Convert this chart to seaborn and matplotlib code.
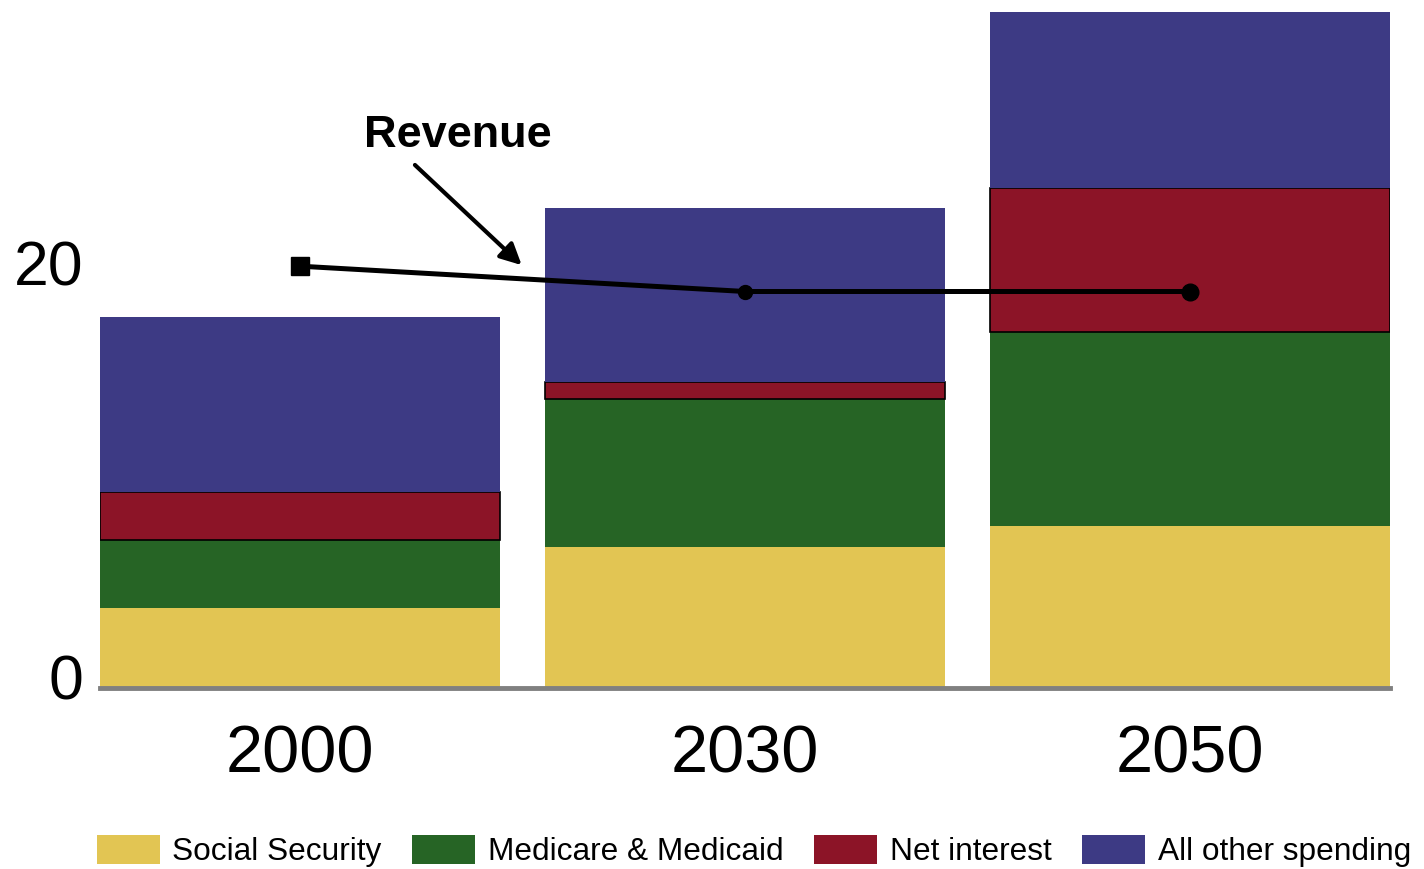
import matplotlib
matplotlib.use("Agg")
import matplotlib.pyplot as plt
import matplotlib.patches as mpatches
from matplotlib.transforms import ScaledTranslation
import numpy as np
import pandas as pd
import seaborn as sns

# Federal spending by component, percent of GDP
years = ["2000", "2030", "2050"]
social_security = [3.8, 6.7, 7.7]
medicare_medicaid = [3.2, 7.0, 9.2]
net_interest = [2.3, 0.8, 6.8]
all_other = [8.3, 8.25, 8.35]
revenue = [20.0, 18.8, 18.8]

components = ["Social Security", "Medicare & Medicaid", "Net interest", "All other spending"]
values = [social_security, medicare_medicaid, net_interest, all_other]
colors = ["#E2C553", "#266425", "#8C1427", "#3D3A84"]
edges = ["none", "none", "black", "none"]

sns.set_theme(style="white")
plt.rcParams["font.family"] = ["Liberation Sans", "DejaVu Sans"]
plt.rcParams["text.color"] = "black"
plt.rcParams["xtick.color"] = "black"
plt.rcParams["ytick.color"] = "black"

fig = plt.figure(figsize=(14.24, 8.69), dpi=100)
ax = fig.add_axes([100 / 1424, 1 - 688 / 869, 1290 / 1424, 677 / 869])

bottom = np.zeros(len(years))
for name, vals, col, ec in zip(components, values, colors, edges):
    df = pd.DataFrame({"year": years, "value": vals})
    sns.barplot(data=df, x="year", y="value", color=col, width=0.9,
                bottom=bottom, edgecolor=ec, linewidth=1.2 if ec != "none" else 0,
                saturation=1, ax=ax)
    bottom = bottom + np.array(vals)

# Revenue line
rev_df = pd.DataFrame({"x": [0, 1, 2], "revenue": revenue})
sns.lineplot(data=rev_df, x="x", y="revenue", color="black", linewidth=3.6, ax=ax)
ax.plot([0], [revenue[0]], marker="s", markersize=13, color="black")
ax.plot([1], [revenue[1]], marker="o", markersize=10, color="black")
ax.plot([2], [revenue[2]], marker="o", markersize=12, color="black")

ax.text(0.354, 26.2, "Revenue", fontsize=32.5, fontweight="bold",
        ha="center", va="center", color="black")
ax.annotate("", xy=(0.498, 20.05), xytext=(0.258, 24.8),
            arrowprops=dict(arrowstyle="-|>", color="black", lw=3,
                            mutation_scale=32, shrinkA=0, shrinkB=0))

ax.set_xlim(-0.45, 2.45)
ax.set_ylim(0, 32.1)
ax.set_xlabel("")
ax.set_ylabel("")
ax.set_yticks([0, 20])
ax.set_yticklabels(["0", "20"])
ax.tick_params(axis="y", labelsize=45, pad=12, length=0)
ax.tick_params(axis="x", labelsize=48, pad=26, length=0)

for lab in ax.get_yticklabels():
    shift = 12 if lab.get_text() == "0" else 4
    lab.set_transform(lab.get_transform() + ScaledTranslation(0, shift / 100, fig.dpi_scale_trans))

for side in ["top", "right", "left"]:
    ax.spines[side].set_visible(False)
ax.spines["bottom"].set_color("#808080")
ax.spines["bottom"].set_linewidth(3.5)
ax.grid(False)

handles = [mpatches.Patch(facecolor=c, edgecolor="none") for c in colors]
fig.legend(handles, components, loc="lower left", bbox_to_anchor=(68 / 1424, -0.031),
           ncol=4, frameon=False, handlelength=1.99, handleheight=1.05,
           handletextpad=0.41, columnspacing=0.95,
           prop={"family": ["Liberation Sans", "DejaVu Sans"], "size": 22.8})

fig.savefig("out.png", dpi=100)
